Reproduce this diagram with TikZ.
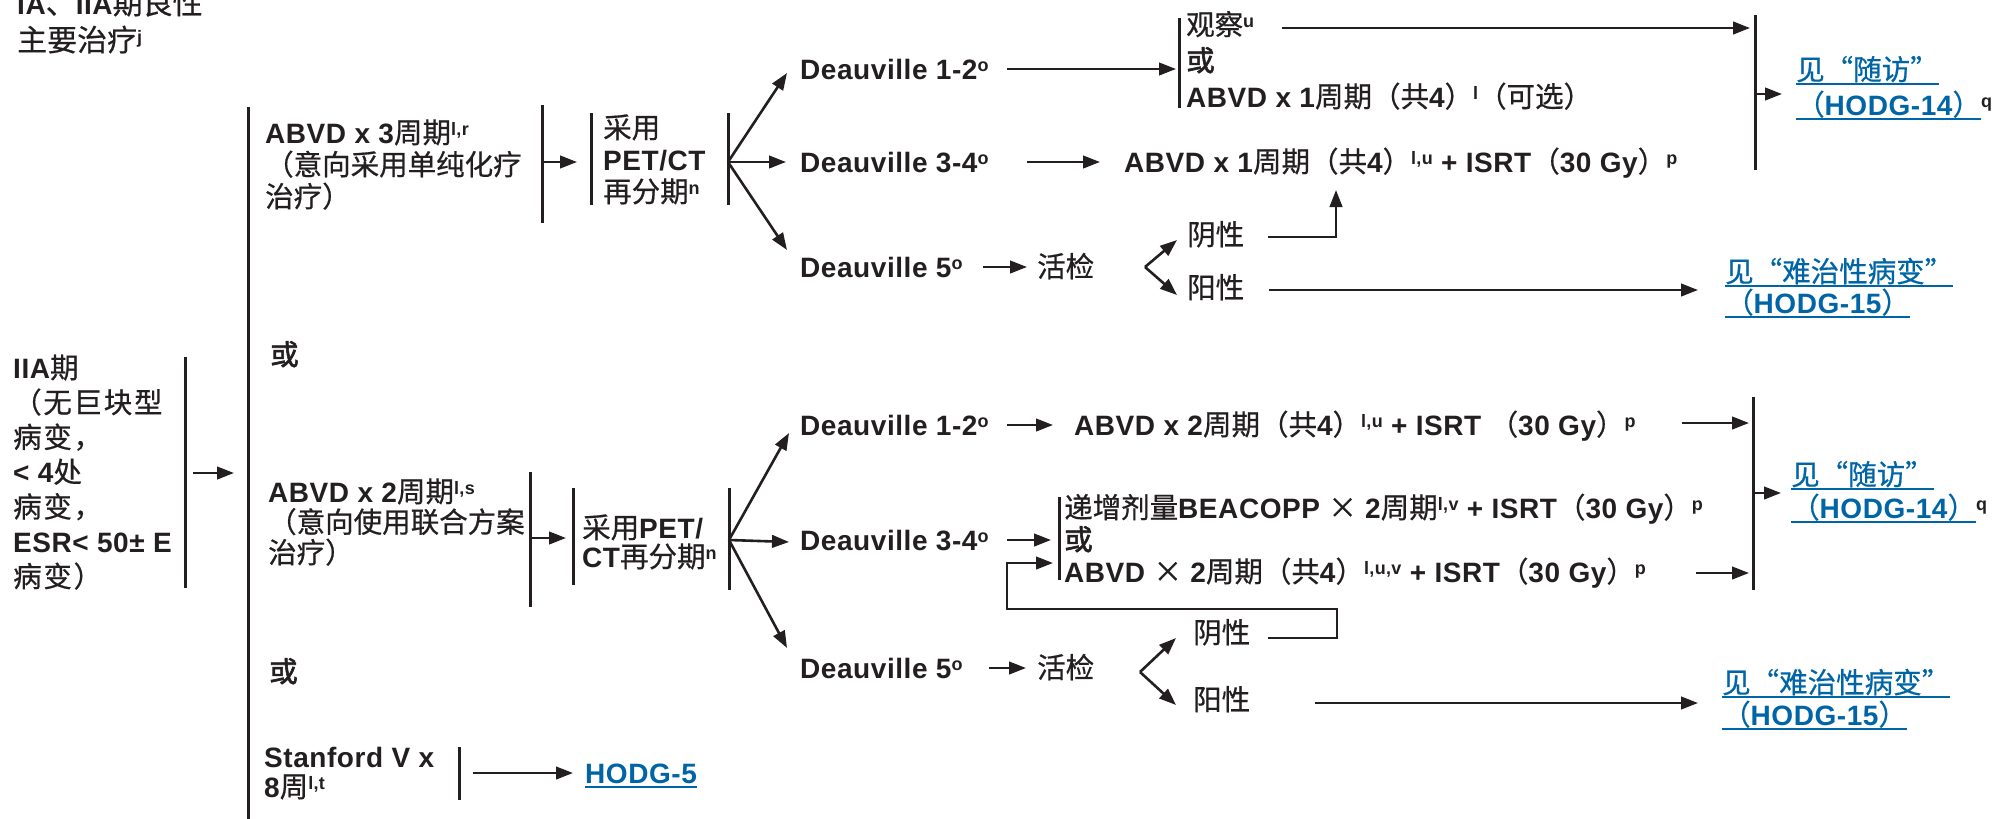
\documentclass[tikz,border=0pt]{standalone}
\usepackage{fontspec}
\setmainfont{Liberation Sans Bold}[LetterSpace=2]
\newfontfamily\zhfont{Noto Sans CJK SC}[FakeBold=0.6]
\newfontfamily\zhwide{Noto Sans CJK SC}[FakeBold=0.6,LetterSpace=6]
\newfontfamily\zhbold{Noto Sans CJK SC}[FakeBold=2]
\usetikzlibrary{arrows.meta}
\definecolor{ink}{RGB}{35,31,32}
\definecolor{linkblue}{RGB}{0,101,166}
\def\zhsize{28.5}
\newcommand\zh[1]{{\fontsize{\zhsize}{0}\zhfont #1}}
\newcommand\zhw[1]{{\fontsize{\zhsize}{0}\zhwide #1}}
\newcommand\zhb[1]{{\fontsize{\zhsize}{0}\zhbold #1}}
\newcommand\sups[1]{\raisebox{8pt}{\fontsize{18}{18}\selectfont #1}}
\newcommand\Ln[1]{\smash{#1}\rule[-2pt]{0pt}{24pt}}
\newcommand\ulink[1]{\setbox0\hbox{#1}\rlap{\rule[-5pt]{\wd0}{1.8pt}}\box0}
\begin{document}
\begin{tikzpicture}[x=1pt,y=-1pt,
  txt/.style={anchor=west,inner sep=0pt,align=left,text=ink,font=\fontsize{28}{#1}\selectfont},
  txt/.default=30,
  link/.style={txt=#1,text=linkblue},
  link/.default=33,
  bar/.style={draw=ink,line width=3pt},
  arr/.style={draw=ink,line width=2.6pt,-{Triangle[length=17pt,width=12.5pt]}}]
\useasboundingbox (0,0) rectangle (1997,819);

% ---------- left column ----------
\node[txt=37,font={\fontsize{28}{37}\selectfont\def\zhsize{30}}] (title) at (17,22.5) {\Ln{IA\zh{、}IIA\zh{期良性}}\\\Ln{\zh{主要治疗}\sups{j}}};
\node[txt=34.8] (iia) at (13,472.5) {\Ln{IIA\zh{期}}\\\Ln{\zhw{（无巨块型}}\\\Ln{\zhw{病变，}}\\\Ln{< 4\zhw{处}}\\\Ln{\zhw{病变，}}\\\Ln{ESR< 50± E}\\\Ln{\zhw{病变）}}};
\coordinate (iiaT) at (185,357); \coordinate (iiaB) at (185,588);
\draw[bar] (iiaT) -- (iiaB);
\coordinate (mainT) at (248,107); \coordinate (mainB) at (248,819);
\draw[bar] (mainT) -- (mainB);
\coordinate (a0s) at (193,473); \coordinate (a0e) at (234,473);
\draw[arr] (a0s) -- (a0e);

% ---------- upper branch ----------
\node[txt=32] (abvd3) at (265,165) {\Ln{ABVD x 3\zh{周期}\sups{l,r}}\\\Ln{\zh{（意向采用单纯化疗}}\\\Ln{\zh{治疗）}}};
\coordinate (u1T) at (542,105); \coordinate (u1B) at (542,223);
\draw[bar] (u1T) -- (u1B);
\coordinate (u1s) at (542,162); \coordinate (u1e) at (577,162);
\draw[arr] (u1s) -- (u1e);
\coordinate (u2T) at (591,113); \coordinate (u2B) at (591,205);
\draw[bar] (u2T) -- (u2B);
\node[txt=32] (pet1) at (603,160) {\Ln{\zh{采用}}\\\Ln{PET/CT}\\\Ln{\zh{再分期}\sups{n}}};
\coordinate (u3T) at (728,113); \coordinate (u3B) at (728,205);
\draw[bar] (u3T) -- (u3B);
\coordinate (fan1) at (728,162);
\coordinate (fan1a) at (787,73); \coordinate (fan1b) at (786,162); \coordinate (fan1c) at (787,250);
\draw[arr] (fan1) -- (fan1a);
\draw[arr] (fan1) -- (fan1b);
\draw[arr] (fan1) -- (fan1c);

\node[txt] (d12a) at (800,69) {\Ln{Deauville 1-2\sups{o}}};
\node[txt] (d34a) at (800,162) {\Ln{Deauville 3-4\sups{o}}};
\node[txt] (d5a) at (800,267) {\Ln{Deauville 5\sups{o}}};

\coordinate (d12as) at (1007,69); \coordinate (d12ae) at (1176,69);
\draw[arr] (d12as) -- (d12ae);
\coordinate (obsT) at (1179,18); \coordinate (obsB) at (1179,108);
\draw[bar] (obsT) -- (obsB);
\node[txt=36] (obs) at (1186,61) {\Ln{\zh{观察}\sups{u}}\\\Ln{\zhb{或}}\\\Ln{ABVD x 1\zh{周期（共}4\zh{）}\sups{l}\zh{（可选）}}};
\coordinate (obss) at (1282,28); \coordinate (obse) at (1750,28);
\draw[arr] (obss) -- (obse);

\coordinate (d34as) at (1027,162); \coordinate (d34ae) at (1100,162);
\draw[arr] (d34as) -- (d34ae);
\node[txt] (abvd1) at (1124,162) {\Ln{ABVD x 1\zh{周期（共}4\zh{）}\sups{l,u} + ISRT\zh{（}30 Gy\zh{）}\sups{p}}};

\coordinate (fuT) at (1755,15); \coordinate (fuB) at (1755,170);
\draw[bar] (fuT) -- (fuB);
\coordinate (fus) at (1755,94); \coordinate (fue) at (1782,94);
\draw[arr] (fus) -- (fue);
\node[link=35] (fu1) at (1796,87.5) {\Ln{\ulink{\zh{见“随访”}}}\\\Ln{\ulink{\zh{（}HODG-14\zh{）}}\textcolor{ink}{\sups{q}}}};

\coordinate (d5as) at (983,267); \coordinate (d5ae) at (1027,267);
\draw[arr] (d5as) -- (d5ae);
\node[txt] (bx1) at (1037,267) {\Ln{\zh{活检}}};
\coordinate (fk1) at (1145,267);
\coordinate (fk1a) at (1177,240); \coordinate (fk1b) at (1177,295);
\draw[arr] (fk1) -- (fk1a);
\draw[arr] (fk1) -- (fk1b);
\node[txt] (neg1) at (1187,235) {\Ln{\zh{阴性}}};
\node[txt] (pos1) at (1187,288) {\Ln{\zh{阳性}}};
\coordinate (neg1s) at (1268,237); \coordinate (neg1c) at (1336,237); \coordinate (neg1e) at (1336,190);
\draw[arr] (neg1s) -- (neg1c) -- (neg1e);
\coordinate (pos1s) at (1269,290); \coordinate (pos1e) at (1698,290);
\draw[arr] (pos1s) -- (pos1e);
\node[link=31] (rf1) at (1725,287.5) {\Ln{\ulink{\zh{见“难治性病变”}}}\\\Ln{\ulink{\zh{（}HODG-15\zh{）}}}};

% ---------- middle branch ----------
\node[txt] (or1) at (270,355) {\Ln{\zhb{或}}};
\node[txt=30.5] (abvd2) at (268,522.5) {\Ln{ABVD x 2\zh{周期}\sups{l,s}}\\\Ln{\zh{（意向使用联合方案}}\\\Ln{\zh{治疗）}}};
\coordinate (m1T) at (530,472); \coordinate (m1B) at (530,607);
\draw[bar] (m1T) -- (m1B);
\coordinate (m1s) at (530,538); \coordinate (m1e) at (566,538);
\draw[arr] (m1s) -- (m1e);
\coordinate (m2T) at (573,488); \coordinate (m2B) at (573,585);
\draw[bar] (m2T) -- (m2B);
\node[txt=29] (pet2) at (582,542.5) {\Ln{\zh{采用}PET/}\\\Ln{CT\zh{再分期}\sups{n}}};
\coordinate (m3T) at (729,488); \coordinate (m3B) at (729,590);
\draw[bar] (m3T) -- (m3B);
\coordinate (fan2) at (729,540);
\coordinate (fan2a) at (789,433); \coordinate (fan2b) at (789,542); \coordinate (fan2c) at (787,648);
\draw[arr] (fan2) -- (fan2a);
\draw[arr] (fan2) -- (fan2b);
\draw[arr] (fan2) -- (fan2c);

\node[txt] (d12b) at (800,425) {\Ln{Deauville 1-2\sups{o}}};
\node[txt] (d34b) at (800,540) {\Ln{Deauville 3-4\sups{o}}};
\node[txt] (d5b) at (800,668) {\Ln{Deauville 5\sups{o}}};

\coordinate (d12bs) at (1007,425); \coordinate (d12be) at (1053,425);
\draw[arr] (d12bs) -- (d12be);
\node[txt] (abvd2b) at (1074,425) {\Ln{ABVD x 2\zh{周期（共}4\zh{）}\sups{l,u} + ISRT \zh{（}30 Gy\zh{）}\sups{p}}};
\coordinate (abvd2bs) at (1682,423); \coordinate (abvd2be) at (1749,423);
\draw[arr] (abvd2bs) -- (abvd2be);

\coordinate (d34bs) at (1007,540); \coordinate (d34be) at (1051,540);
\draw[arr] (d34bs) -- (d34be);
\coordinate (escT) at (1059,497); \coordinate (escB) at (1059,580);
\draw[bar] (escT) -- (escB);
\node[txt=32] (beac) at (1064,540) {\Ln{\zh{递增剂量}BEACOPP \zh{×} 2\zh{周期}\sups{l,v} + ISRT\zh{（}30 Gy\zh{）}\sups{p}}\\\Ln{\zhb{或}}\\\Ln{ABVD \zh{×} 2\zh{周期（共}4\zh{）}\sups{l,u,v} + ISRT\zh{（}30 Gy\zh{）}\sups{p}}};
\coordinate (beacs) at (1696,573); \coordinate (beace) at (1749,573);
\draw[arr] (beacs) -- (beace);

\coordinate (fu2T) at (1753,397); \coordinate (fu2B) at (1753,590);
\draw[bar] (fu2T) -- (fu2B);
\coordinate (fu2s) at (1753,493); \coordinate (fu2e) at (1781,493);
\draw[arr] (fu2s) -- (fu2e);
\node[link=33] (fu2) at (1791,491.5) {\Ln{\ulink{\zh{见“随访”}}}\\\Ln{\ulink{\zh{（}HODG-14\zh{）}}\textcolor{ink}{\sups{q}}}};

\coordinate (d5bs) at (989,668); \coordinate (d5be) at (1026,668);
\draw[arr] (d5bs) -- (d5be);
\node[txt] (bx2) at (1037,668) {\Ln{\zh{活检}}};
\coordinate (fk2) at (1140,672);
\coordinate (fk2a) at (1176,638); \coordinate (fk2b) at (1176,705);
\draw[arr] (fk2) -- (fk2a);
\draw[arr] (fk2) -- (fk2b);
\node[txt] (neg2) at (1193,633) {\Ln{\zh{阴性}}};
\node[txt] (pos2) at (1193,700) {\Ln{\zh{阳性}}};
\coordinate (lp1) at (1268,638); \coordinate (lp2) at (1337,638); \coordinate (lp3) at (1337,609);
\coordinate (lp4) at (1007,609); \coordinate (lp5) at (1007,563); \coordinate (lp6) at (1053,563);
\draw[arr] (lp1) -- (lp2) -- (lp3) -- (lp4) -- (lp5) -- (lp6);
\coordinate (pos2s) at (1315,703); \coordinate (pos2e) at (1698,703);
\draw[arr] (pos2s) -- (pos2e);
\node[link=32] (rf2) at (1722,699) {\Ln{\ulink{\zh{见“难治性病变”}}}\\\Ln{\ulink{\zh{（}HODG-15\zh{）}}}};

% ---------- lower branch ----------
\node[txt] (or2) at (269,672) {\Ln{\zhb{或}}};
\node[txt=30] (stan) at (264,772) {\Ln{Stanford V x}\\\Ln{8\zh{周}\sups{l,t}}};
\coordinate (sT) at (459,747); \coordinate (sB) at (459,800);
\draw[bar] (sT) -- (sB);
\coordinate (ss) at (473,773); \coordinate (se) at (573,773);
\draw[arr] (ss) -- (se);
\node[link] (h5) at (585,773) {\Ln{\ulink{HODG-5}}};
\end{tikzpicture}
\end{document}
